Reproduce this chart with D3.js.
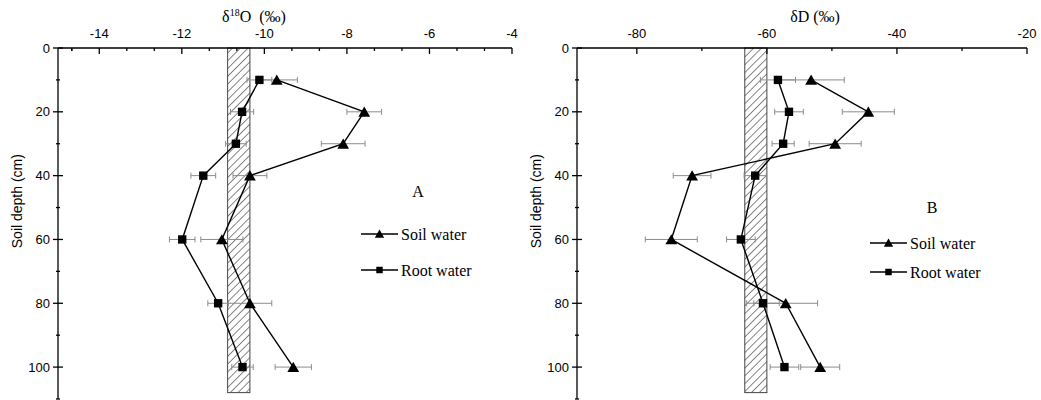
<!DOCTYPE html>
<html>
<head>
<meta charset="utf-8">
<script src="https://cdn.jsdelivr.net/npm/d3@7"></script>
<style>
  body { margin: 0; background: #fff; }
  svg { display: block; }
</style>
</head>
<body>
<div id="chart"></div>
<script>
// depth of each sample (cm)
var depths = [10, 20, 30, 40, 60, 80, 100];

// panel A, delta 18O (permil)
var o18Soil    = [-9.70, -7.58, -8.09, -10.35, -11.03, -10.35, -9.30];
var o18SoilErr = [0.50, 0.42, 0.53, 0.41, 0.51, 0.53, 0.44];
var o18Root    = [-10.12, -10.54, -10.69, -11.48, -11.99, -11.12, -10.53];
var o18RootErr = [0.30, 0.28, 0.25, 0.30, 0.31, 0.25, 0.26];

// panel B, delta D (permil)
var dDSoil    = [-53.2, -44.4, -49.5, -71.5, -74.7, -57.1, -51.8];
var dDSoilErr = [5.1, 4.0, 4.0, 2.9, 4.0, 4.9, 3.0];
var dDRoot    = [-58.3, -56.6, -57.5, -61.8, -64.0, -60.6, -57.3];
var dDRootErr = [2.7, 2.2, 1.7, 1.7, 2.2, 2.5, 2.2];

// hatched band (range of the source water)
var bandO18 = [-10.89, -10.35];
var bandD = [-63.4, -60.0];
var bandDepth = 108;

var o18Ticks = [-14, -12, -10, -8, -6, -4];
var dDTicks = [-80, -60, -40, -20];
var depthTicks = [0, 20, 40, 60, 80, 100];
var legendNames = ["Soil water", "Root water"];

var width = 1041, height = 400;

var svg = d3.select("#chart").append("svg")
    .attr("width", width)
    .attr("height", height);

// hatch pattern for the band
var defs = svg.append("defs");
var pat = defs.append("pattern")
    .attr("id", "hatch")
    .attr("patternUnits", "userSpaceOnUse")
    .attr("width", 5.5)
    .attr("height", 5.5)
    .attr("patternTransform", "rotate(45)");
pat.append("rect").attr("width", 5.5).attr("height", 5.5).attr("fill", "#fff");
pat.append("line")
    .attr("x1", 0).attr("y1", 0).attr("x2", 0).attr("y2", 5.5)
    .attr("stroke", "#222").attr("stroke-width", 1.1);

var y = d3.scaleLinear().domain([0, 110]).range([48, 399]);

function panel(opt) {
    var x = d3.scaleLinear().domain(opt.domain).range(opt.range);
    var g = svg.append("g");
    var x0 = opt.range[0];

    // band
    g.append("rect")
        .attr("x", x(opt.band[0]))
        .attr("y", y(0))
        .attr("width", x(opt.band[1]) - x(opt.band[0]))
        .attr("height", y(bandDepth) - y(0))
        .attr("fill", "url(#hatch)")
        .attr("stroke", "#444")
        .attr("stroke-width", 1);

    // top axis (ticks point into the plot)
    var xMinor = [];
    var minorStep = opt.minorStep;
    for (var v = opt.domain[0]; v <= opt.domain[1] + 1e-6; v += minorStep) {
        var r = Math.round(v / minorStep) * minorStep;
        if (opt.ticks.indexOf(Math.round(r * 1000) / 1000) < 0 && r >= opt.domain[0]) xMinor.push(r);
    }
    var topAxis = g.append("g").attr("transform", "translate(0," + y(0) + ")");
    topAxis.append("line")
        .attr("x1", opt.range[0]).attr("x2", opt.range[1])
        .attr("stroke", "#000").attr("stroke-width", 1.3);
    topAxis.selectAll(".maj").data(opt.ticks).enter().append("line")
        .attr("x1", function(d) { return x(d); }).attr("x2", function(d) { return x(d); })
        .attr("y1", 0).attr("y2", 6)
        .attr("stroke", "#000").attr("stroke-width", 1.3);
    topAxis.selectAll(".min").data(xMinor).enter().append("line")
        .attr("x1", function(d) { return x(d); }).attr("x2", function(d) { return x(d); })
        .attr("y1", 0).attr("y2", 3)
        .attr("stroke", "#000").attr("stroke-width", 1.3);
    topAxis.selectAll("text").data(opt.ticks).enter().append("text")
        .attr("x", function(d) { return x(d); })
        .attr("y", -10)
        .attr("text-anchor", "middle")
        .style("font-family", "Liberation Sans, Arial, sans-serif")
        .style("font-size", "13px")
        .text(function(d) { return d; });

    // left axis
    var yMinor = [10, 30, 50, 70, 90, 110];
    var leftAxis = g.append("g").attr("transform", "translate(" + x0 + ",0)");
    leftAxis.append("line")
        .attr("y1", y(0)).attr("y2", y(110))
        .attr("stroke", "#000").attr("stroke-width", 1.3);
    leftAxis.selectAll(".maj").data(depthTicks).enter().append("line")
        .attr("y1", function(d) { return y(d); }).attr("y2", function(d) { return y(d); })
        .attr("x1", -5).attr("x2", 5)
        .attr("stroke", "#000").attr("stroke-width", 1.3);
    leftAxis.selectAll(".min").data(yMinor).enter().append("line")
        .attr("y1", function(d) { return y(d); }).attr("y2", function(d) { return y(d); })
        .attr("x1", -2).attr("x2", 2)
        .attr("stroke", "#000").attr("stroke-width", 1.3);
    leftAxis.selectAll("text").data(depthTicks).enter().append("text")
        .attr("x", -8)
        .attr("y", function(d) { return y(d); })
        .attr("dy", "0.35em")
        .attr("text-anchor", "end")
        .style("font-family", "Liberation Sans, Arial, sans-serif")
        .style("font-size", "13px")
        .text(function(d) { return d; });

    // y title
    g.append("text")
        .attr("transform", "translate(" + (x0 - 36) + "," + y(48) + ") rotate(-90)")
        .attr("text-anchor", "middle")
        .style("font-family", "Liberation Sans, Arial, sans-serif")
        .style("font-size", "14px")
        .text("Soil depth (cm)");

    // x title
    var title = g.append("text")
        .attr("x", opt.titleX)
        .attr("y", 22)
        .attr("text-anchor", "middle")
        .style("font-family", "Liberation Serif, Times New Roman, serif")
        .style("font-size", "16px");
    opt.title(title);

    // series
    var series = [
        {vals: opt.soil, err: opt.soilErr, sym: d3.symbolTriangle, size: 60},
        {vals: opt.root, err: opt.rootErr, sym: d3.symbolSquare, size: 70}
    ];
    var line = d3.line()
        .x(function(d) { return x(d[0]); })
        .y(function(d) { return y(d[1]); });

    series.forEach(function(s) {
        var pts = s.vals.map(function(v, i) { return [v, depths[i], s.err[i]]; });
        // error bars
        var eb = g.append("g").attr("stroke", "#8c8c8c").attr("stroke-width", 1);
        pts.forEach(function(p) {
            eb.append("line")
                .attr("x1", x(p[0] - p[2])).attr("x2", x(p[0] + p[2]))
                .attr("y1", y(p[1])).attr("y2", y(p[1]));
            [p[0] - p[2], p[0] + p[2]].forEach(function(e) {
                eb.append("line")
                    .attr("x1", x(e)).attr("x2", x(e))
                    .attr("y1", y(p[1]) - 3).attr("y2", y(p[1]) + 3);
            });
        });
        g.append("path")
            .attr("d", line(pts))
            .attr("fill", "none")
            .attr("stroke", "#000")
            .attr("stroke-width", 1.4);
        g.selectAll(null).data(pts).enter().append("path")
            .attr("transform", function(d) {
                var dy = s.sym === d3.symbolTriangle ? 1.5 : 0;
                return "translate(" + x(d[0]) + "," + (y(d[1]) + dy) + ")";
            })
            .attr("d", d3.symbol().type(s.sym).size(s.size))
            .attr("fill", "#000");
    });

    // panel letter
    g.append("text")
        .attr("x", opt.letterPos[0])
        .attr("y", opt.letterPos[1])
        .attr("text-anchor", "middle")
        .style("font-family", "Liberation Serif, Times New Roman, serif")
        .style("font-size", "16px")
        .text(opt.letter);

    // legend
    var lg = g.append("g").attr("transform", "translate(" + opt.legendPos[0] + "," + opt.legendPos[1] + ")");
    legendNames.forEach(function(name, i) {
        var row = lg.append("g").attr("transform", "translate(0," + (i * opt.legendGap) + ")");
        row.append("line")
            .attr("x1", 0).attr("x2", 37)
            .attr("stroke", "#000").attr("stroke-width", 1.4);
        row.append("path")
            .attr("transform", "translate(18.5," + (i == 0 ? 1 : 0) + ")")
            .attr("d", d3.symbol().type(i == 0 ? d3.symbolTriangle : d3.symbolSquare).size(i == 0 ? 38 : 42))
            .attr("fill", "#000");
        row.append("text")
            .attr("x", 40)
            .attr("dy", "0.35em")
            .style("font-family", "Liberation Serif, Times New Roman, serif")
            .style("font-size", "16px")
            .text(name);
    });
}

panel({
    domain: [-15, -4], range: [58, 512], ticks: o18Ticks, minorStep: 2 / 3,
    band: bandO18,
    soil: o18Soil, soilErr: o18SoilErr, root: o18Root, rootErr: o18RootErr,
    titleX: 254,
    title: function(t) {
        t.append("tspan").text("\u03B4");
        t.append("tspan").attr("dy", -6).style("font-size", "10px").text("18");
        t.append("tspan").attr("dy", 6).text("O\u00A0\u00A0(\u2030)");
    },
    letter: "A", letterPos: [418, 197],
    legendPos: [361, 234], legendGap: 36
});

panel({
    domain: [-89.2, -20], range: [577, 1027], ticks: dDTicks, minorStep: 10,
    band: bandD,
    soil: dDSoil, soilErr: dDSoilErr, root: dDRoot, rootErr: dDRootErr,
    titleX: 815,
    title: function(t) { t.text("\u03B4D (\u2030)"); },
    letter: "B", letterPos: [932, 213],
    legendPos: [870, 243], legendGap: 29
});
</script>
</body>
</html>
